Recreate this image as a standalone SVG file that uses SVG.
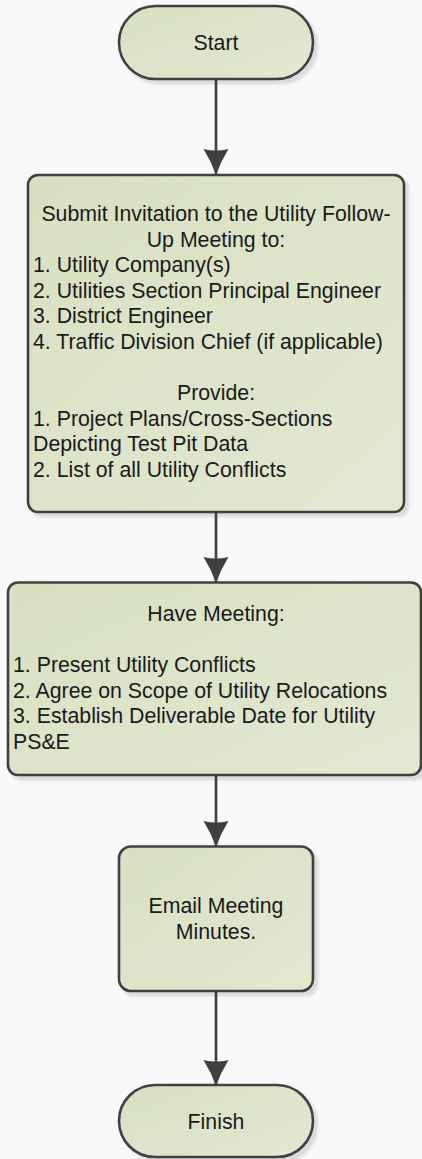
<svg xmlns="http://www.w3.org/2000/svg" width="422" height="1159" viewBox="0 0 422 1159">
<defs>
<style>
.node{fill:url(#g);stroke:#404040;stroke-width:2.6;filter:url(#sh)}
.t{font-family:"Liberation Sans",Arial,sans-serif;font-size:21.3px;fill:#1a1a1a}
.c{text-anchor:middle}
.conn{stroke:#404040;stroke-width:2.6;fill:none;marker-end:url(#ah)}
</style>
<linearGradient id="g" x1="0" y1="0" x2="1" y2="1">
<stop offset="0" stop-color="#d8e0c0"/>
<stop offset="1" stop-color="#e3e8d2"/>
</linearGradient>
<filter id="sh" x="-10%" y="-10%" width="130%" height="130%">
<feDropShadow dx="4" dy="4" stdDeviation="1.5" flood-color="#000" flood-opacity="0.12"/>
</filter>
<marker id="ah" viewBox="0 0 26 26" markerWidth="26" markerHeight="26" markerUnits="userSpaceOnUse" refX="25" refY="13" orient="auto">
<path d="M0,0.5 Q12,8 26,13 Q12,18 0,25.5 Q3,13 0,0.5 Z" fill="#404040"/>
</marker>
</defs>
<rect width="422" height="1159" fill="#f9f9f9"/>
<g id="connectors">
<line class="conn" x1="216" y1="79" x2="216" y2="174"/>
<line class="conn" x1="216" y1="512" x2="216" y2="582"/>
<line class="conn" x1="216" y1="775" x2="216" y2="846"/>
<line class="conn" x1="216" y1="991" x2="216" y2="1085"/>
</g>
<g id="start">
<rect class="node" x="119" y="6" width="194" height="73" rx="36.5"/>
<text class="t c" x="216" y="49.5">Start</text>
</g>
<g id="invite">
<rect class="node" x="28" y="175" width="376" height="337" rx="10"/>
<text class="t c" x="216" y="221">Submit Invitation to the Utility Follow-</text>
<text class="t c" x="216" y="246.6">Up Meeting to:</text>
<text class="t" x="33" y="272.2">1. Utility Company(s)</text>
<text class="t" x="33" y="297.8">2. Utilities Section Principal Engineer</text>
<text class="t" x="33" y="323.4">3. District Engineer</text>
<text class="t" x="33" y="349">4. Traffic Division Chief (if applicable)</text>
<text class="t c" x="216" y="400.2">Provide:</text>
<text class="t" x="33" y="425.8">1. Project Plans/Cross-Sections</text>
<text class="t" x="33" y="451.4">Depicting Test Pit Data</text>
<text class="t" x="33" y="477">2. List of all Utility Conflicts</text>
</g>
<g id="meeting">
<rect class="node" x="8" y="582.5" width="413" height="192.5" rx="10"/>
<text class="t c" x="216" y="620.7">Have Meeting:</text>
<text class="t" x="13" y="671.9">1. Present Utility Conflicts</text>
<text class="t" x="13" y="697.5">2. Agree on Scope of Utility Relocations</text>
<text class="t" x="13" y="723.1">3. Establish Deliverable Date for Utility</text>
<text class="t" x="13" y="748.7">PS&amp;E</text>
</g>
<g id="email">
<rect class="node" x="119" y="846.5" width="194" height="144.5" rx="12"/>
<text class="t c" x="216" y="913.3">Email Meeting</text>
<text class="t c" x="216" y="938.9">Minutes.</text>
</g>
<g id="finish">
<rect class="node" x="119" y="1085" width="194" height="72" rx="36"/>
<text class="t c" x="216" y="1129">Finish</text>
</g>
</svg>
